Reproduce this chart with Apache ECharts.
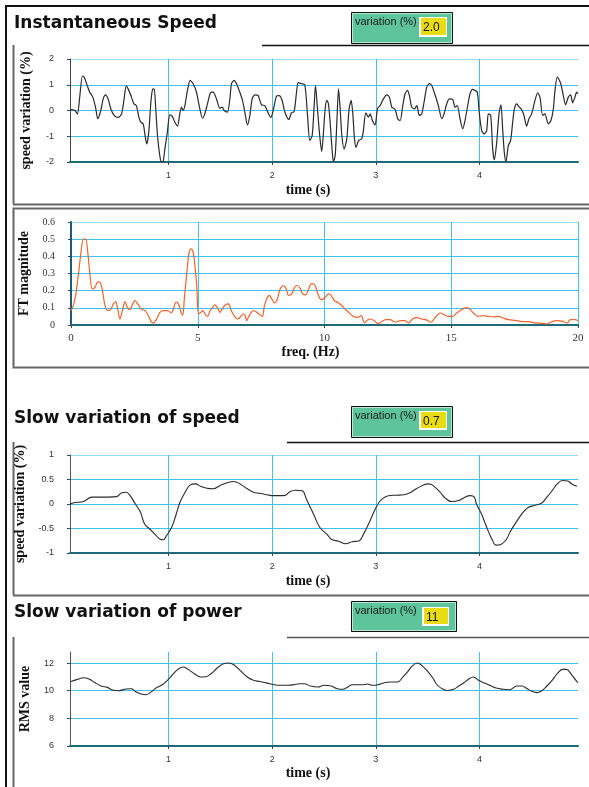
<!DOCTYPE html>
<html>
<head>
<meta charset="utf-8">
<title>Speed and power variation</title>
<script src="https://cdn.jsdelivr.net/npm/echarts@6/dist/echarts.min.js"></script>
<style>
  html, body { margin: 0; padding: 0; background: #ffffff; }
  #chart { width: 589px; height: 787px; }
</style>
</head>
<body>
<div id="chart"></div>
<script>
// ---- Instantaneous speed variation (%) vs time (s) ----
const speedTime = [0.05,0.096,0.122,0.145,0.17,0.186,0.21,0.24,0.27,0.296,0.318,0.347,0.37,0.392,0.418,0.444,0.476,0.514,0.547,0.572,0.592,0.611,0.643,0.666,0.69,0.714,0.733,0.756,0.772,0.79,0.81,0.83,0.846,0.862,0.875,0.894,0.916,0.932,0.949,0.965,0.987,1.013,1.035,1.061,1.087,1.109,1.125,1.141,1.158,1.183,1.209,1.238,1.27,1.296,1.328,1.35,1.376,1.405,1.431,1.463,1.495,1.518,1.537,1.569,1.592,1.608,1.633,1.656,1.688,1.714,1.736,1.762,1.785,1.807,1.833,1.865,1.897,1.929,1.961,1.987,2.01,2.042,2.068,2.096,2.122,2.161,2.186,2.212,2.235,2.251,2.283,2.315,2.341,2.363,2.386,2.405,2.418,2.437,2.46,2.478,2.495,2.511,2.527,2.543,2.559,2.575,2.591,2.608,2.624,2.64,2.656,2.672,2.694,2.72,2.742,2.762,2.778,2.794,2.81,2.833,2.864,2.88,2.903,2.929,2.945,2.967,2.993,3.016,3.041,3.073,3.105,3.131,3.154,3.186,3.211,3.234,3.26,3.282,3.305,3.324,3.346,3.372,3.395,3.42,3.443,3.465,3.491,3.516,3.539,3.571,3.603,3.636,3.658,3.684,3.709,3.741,3.764,3.786,3.812,3.838,3.86,3.886,3.909,3.934,3.957,3.979,3.999,4.021,4.044,4.069,4.085,4.108,4.127,4.143,4.166,4.188,4.207,4.223,4.239,4.255,4.278,4.3,4.32,4.336,4.358,4.384,4.406,4.429,4.454,4.477,4.503,4.535,4.561,4.583,4.609,4.631,4.663,4.689,4.712,4.728,4.75,4.776,4.792,4.808,4.831,4.856,4.879,4.898,4.921,4.937,4.95];
const speedValues = [0.04,0,-0.13,0.58,1.34,1.3,1.04,0.71,0.52,0.13,-0.32,0,0.45,0.61,0.45,0.06,-0.19,-0.27,-0.13,0.45,0.95,0.84,0.52,0.26,0.19,-0.26,-0.45,-0.52,-0.91,-1.3,-0.84,0.32,0.82,0.84,0.19,-0.97,-1.75,-2.0,-1.98,-1.49,-0.91,-0.17,-0.22,-0.45,-0.61,-0.13,0.13,0,0.19,0.78,1.17,1.04,0.71,0.19,-0.3,-0.13,0.26,0.69,0.71,0.45,0.09,0.13,0,-0.06,0.45,1.04,1.17,1.04,0.71,0.39,-0.06,-0.56,-0.19,0.45,0.61,0.58,0.22,0.19,-0.09,-0.27,0,0.56,0.58,0.39,-0.06,-0.35,-0.09,-0.04,0.71,1.08,1.04,1.0,-0.19,-1.17,-0.97,0.19,0.97,0.06,-1.04,-1.6,-0.84,0.06,0.39,0.26,-0.45,-1.36,-1.99,-1.75,-0.45,0.84,0.06,-0.97,-1.49,-1.1,0.06,0.39,-0.13,-1.1,-1.43,-1.17,-1.1,-0.78,-0.09,-0.26,-0.13,-0.39,-0.56,0.06,0.19,0.45,0.61,0.52,0.13,0.04,-0.32,-0.39,0.19,0.65,0.78,0.58,0.13,0.06,0.19,-0.19,-0.13,0.32,0.91,1.04,0.97,0.61,0.19,-0.32,-0.13,0.26,0.45,0.43,0.13,0.19,-0.32,-0.71,-0.39,0.19,0.65,0.82,0.78,0.71,-0.13,-0.78,-0.91,-0.78,-0.13,-0.19,-1.49,-1.91,-1.23,-0.13,0.22,-0.71,-1.62,-1.99,-1.36,-1.17,-0.45,0.06,0.26,0.13,0.04,-0.19,-0.61,-0.32,-0.13,0.39,0.69,0.52,-0.19,-0.13,-0.52,-0.39,0.06,0.78,1.3,1.13,0.91,0.58,0.22,0.52,0.61,0.3,0.52,0.71,0.65];

// ---- Fourier transform magnitude vs frequency (Hz) ----
const freqHz = [0,0.09,0.18,0.29,0.38,0.49,0.58,0.66,0.75,0.84,0.95,1.05,1.14,1.24,1.34,1.45,1.58,1.67,1.76,1.84,1.93,2.03,2.13,2.22,2.33,2.43,2.53,2.63,2.76,2.92,3.05,3.16,3.25,3.38,3.51,3.64,3.82,3.95,4.04,4.14,4.24,4.34,4.41,4.47,4.57,4.66,4.74,4.83,4.9,4.96,5.03,5.12,5.2,5.29,5.39,5.49,5.59,5.68,5.79,5.88,5.97,6.08,6.21,6.32,6.45,6.58,6.67,6.8,6.87,6.93,7.0,7.11,7.2,7.33,7.46,7.55,7.63,7.72,7.82,7.92,8.03,8.12,8.25,8.38,8.49,8.58,8.71,8.82,8.93,9.04,9.14,9.26,9.37,9.47,9.57,9.66,9.74,9.83,9.92,10.03,10.16,10.26,10.39,10.55,10.75,10.95,11.14,11.32,11.45,11.58,11.71,11.84,12.0,12.13,12.26,12.42,12.59,12.79,12.99,13.16,13.32,13.47,13.64,13.82,14.0,14.21,14.37,14.57,14.74,14.89,15.05,15.22,15.42,15.58,15.71,15.88,16.05,16.28,16.47,16.67,16.87,17.07,17.26,17.53,17.79,18.05,18.32,18.58,18.78,18.97,19.17,19.37,19.57,19.7,19.89,20.0];
const ftMagnitude = [0.084,0.113,0.17,0.29,0.405,0.5,0.5,0.425,0.29,0.21,0.22,0.25,0.25,0.2,0.113,0.084,0.094,0.123,0.136,0.094,0.035,0.084,0.136,0.103,0.09,0.123,0.142,0.123,0.094,0.084,0.055,0.02,0.012,0.035,0.074,0.084,0.084,0.07,0.094,0.133,0.123,0.074,0.058,0.152,0.308,0.425,0.444,0.415,0.327,0.23,0.064,0.074,0.084,0.064,0.05,0.084,0.103,0.117,0.097,0.074,0.094,0.117,0.123,0.084,0.05,0.035,0.045,0.064,0.055,0.025,0.045,0.074,0.084,0.074,0.058,0.05,0.113,0.152,0.172,0.152,0.129,0.142,0.21,0.23,0.21,0.172,0.181,0.22,0.23,0.214,0.181,0.175,0.207,0.24,0.24,0.22,0.181,0.152,0.148,0.162,0.181,0.172,0.142,0.129,0.103,0.074,0.05,0.045,0.055,0.012,0.031,0.035,0.02,0.006,0.02,0.031,0.031,0.016,0.025,0.025,0.012,0.035,0.045,0.035,0.031,0.016,0.045,0.07,0.058,0.05,0.05,0.07,0.09,0.101,0.094,0.07,0.05,0.055,0.05,0.047,0.05,0.039,0.031,0.027,0.02,0.02,0.012,0.01,0.006,0.02,0.025,0.023,0.012,0.031,0.031,0.025];

// ---- Slow variation of speed (%) vs time (s) ----
const slowSpeedTime = [0.052,0.1,0.18,0.26,0.34,0.42,0.5,0.55,0.59,0.63,0.68,0.73,0.77,0.82,0.87,0.92,0.95,0.98,1.03,1.07,1.11,1.16,1.21,1.26,1.31,1.37,1.43,1.5,1.56,1.63,1.69,1.76,1.82,1.88,1.95,2.01,2.08,2.13,2.17,2.22,2.29,2.33,2.4,2.46,2.53,2.57,2.64,2.71,2.77,2.84,2.88,2.93,2.98,3.02,3.06,3.12,3.2,3.27,3.33,3.39,3.46,3.51,3.55,3.62,3.67,3.73,3.8,3.86,3.91,3.95,3.97,4.02,4.07,4.12,4.16,4.21,4.26,4.3,4.35,4.42,4.47,4.53,4.6,4.65,4.7,4.75,4.8,4.85,4.89,4.94];
const slowSpeedValues = [0,0.03,0.05,0.14,0.14,0.14,0.15,0.23,0.24,0.17,0,-0.17,-0.41,-0.51,-0.62,-0.72,-0.73,-0.65,-0.48,-0.24,0.03,0.24,0.39,0.41,0.36,0.32,0.31,0.38,0.43,0.46,0.41,0.31,0.24,0.22,0.19,0.17,0.17,0.18,0.25,0.28,0.27,0.1,-0.21,-0.48,-0.62,-0.72,-0.76,-0.81,-0.77,-0.75,-0.62,-0.41,-0.17,0,0.1,0.17,0.18,0.19,0.23,0.31,0.39,0.41,0.38,0.24,0.12,0.05,0.07,0.14,0.17,0.14,0,-0.21,-0.48,-0.72,-0.84,-0.82,-0.72,-0.55,-0.38,-0.17,-0.07,-0.03,0.02,0.14,0.27,0.41,0.48,0.47,0.41,0.36];

// ---- Slow variation of power: RMS value vs time (s) ----
const powerTime = [0.058,0.12,0.18,0.24,0.28,0.35,0.41,0.46,0.52,0.59,0.64,0.68,0.73,0.78,0.83,0.88,0.94,0.99,1.04,1.09,1.14,1.18,1.25,1.31,1.36,1.41,1.47,1.53,1.58,1.63,1.69,1.76,1.82,1.88,1.95,2.02,2.08,2.15,2.21,2.26,2.31,2.37,2.44,2.5,2.57,2.63,2.68,2.73,2.77,2.82,2.87,2.92,2.97,3.02,3.08,3.14,3.21,3.26,3.31,3.35,3.4,3.45,3.5,3.55,3.59,3.64,3.69,3.75,3.8,3.85,3.9,3.94,3.99,4.04,4.1,4.16,4.23,4.29,4.36,4.41,4.46,4.5,4.55,4.6,4.65,4.7,4.75,4.8,4.84,4.88,4.93,4.95];
const powerRms = [10.67,10.82,10.94,10.82,10.63,10.34,10.24,10.05,10.0,10.12,10.14,9.95,9.78,9.71,9.9,10.19,10.43,10.75,11.16,11.54,11.71,11.59,11.23,10.99,11.01,11.23,11.64,11.95,12.0,11.88,11.47,10.99,10.75,10.67,10.55,10.43,10.39,10.39,10.43,10.5,10.5,10.34,10.27,10.39,10.34,10.14,10.1,10.27,10.43,10.43,10.43,10.48,10.39,10.43,10.58,10.63,10.63,10.99,11.4,11.78,12.0,11.78,11.4,10.92,10.43,10.14,10.02,10.1,10.34,10.58,10.87,10.99,10.75,10.58,10.39,10.19,10.1,10.07,10.34,10.34,10.14,9.98,9.86,10.0,10.34,10.75,11.23,11.54,11.54,11.23,10.75,10.58];

// ---- Readouts and tick labels ----
const panelTitles = ['Instantaneous Speed', 'Slow variation of speed', 'Slow variation of power'];
const variationReadouts = ['2.0', '0.7', '11'];
const timeTicks = [1, 2, 3, 4];

const pairs = (xs, ys) => xs.map((x, i) => [x, ys[i]]);

const GRID_BLUE = '#3dc2ee';
const GRID_LIGHT = '#93d9f3';
const SERIF = '"Liberation Serif", "DejaVu Serif", serif';
const SANS = '"Liberation Sans", Arial, sans-serif';
const TITLE_FONT = 'bold 17px "DejaVu Sans", "Liberation Sans", sans-serif';

function timeAxis(gridIndex, nameGap) {
  return {
    type: 'value', gridIndex, min: 0.05, max: 4.95,
    axisLine: { show: true, onZero: false, lineStyle: { color: '#1e6a7a', width: 2 } },
    axisTick: { show: true, length: 3, lineStyle: { color: '#444' } },
    axisLabel: {
      showMinLabel: false, showMaxLabel: false, margin: 9,
      fontSize: 9, fontFamily: SANS, color: '#333',
      formatter: v => (timeTicks.indexOf(v) >= 0 ? String(v) : '')
    },
    splitLine: { show: true, showMinLine: false, showMaxLine: false, lineStyle: { color: GRID_BLUE, width: 1 } },
    name: 'time (s)', nameLocation: 'middle', nameGap,
    nameTextStyle: { fontFamily: SERIF, fontWeight: 'bold', fontSize: 14, color: '#111', padding: [0, 32, 0, 0] }
  };
}

function valueAxis(gridIndex, opts) {
  return Object.assign({
    type: 'value', gridIndex,
    axisLine: { show: true, lineStyle: { color: '#444', width: 1 } },
    axisTick: { show: true, length: 3, lineStyle: { color: '#444' } },
    axisLabel: { margin: 16, fontSize: 9, fontFamily: SANS, color: '#333' },
    nameLocation: 'middle', nameGap: 37,
    nameTextStyle: { fontFamily: SERIF, fontWeight: 'bold', fontSize: 14, color: '#111' }
  }, opts);
}

// ---- Panel decoration: frames, titles and variation readouts ----
function hLine(x1, x2, y, stroke, w) {
  return { type: 'line', silent: true, shape: { x1, y1: y, x2, y2: y }, style: { stroke, lineWidth: w } };
}
function vLine(x, y1, y2, stroke, w) {
  return { type: 'line', silent: true, shape: { x1: x, y1, x2: x, y2 }, style: { stroke, lineWidth: w } };
}
function title(text, y) {
  return {
    type: 'text', x: 14, y, silent: true,
    style: { text, fill: '#111', font: TITLE_FONT, textVerticalAlign: 'top', verticalAlign: 'top' }
  };
}
function readout(x, y, w, h, yx, yy, yw, yh, value) {
  return [
    { type: 'rect', silent: true, shape: { x: x + 0.5, y: y + 0.5, width: w, height: h }, style: { fill: '#5ec49b', stroke: '#111', lineWidth: 1 } },
    { type: 'rect', silent: true, shape: { x: x + 1.5, y: y + 1.5, width: w - 2, height: h - 2 }, style: { fill: 'none', stroke: '#b8e8d3', lineWidth: 1 } },
    { type: 'text', x: x + 4, y: y + 10, silent: true,
      style: { text: 'variation (%)', fill: '#1a1a1a', font: '11px ' + SANS, textVerticalAlign: 'middle', verticalAlign: 'middle' } },
    { type: 'rect', silent: true, shape: { x: yx, y: yy, width: yw, height: yh }, style: { fill: '#ffffff' } },
    { type: 'rect', silent: true, shape: { x: yx + 2, y: yy + 1, width: yw - 3, height: yh - 3 }, style: { fill: '#e9dc12' } },
    { type: 'text', x: yx + 4, y: yy + yh / 2 + 1, silent: true,
      style: { text: value, fill: '#111', font: '12px ' + SANS, textVerticalAlign: 'middle', verticalAlign: 'middle' } }
  ];
}

const graphics = [
  hLine(5, 589, 6, '#111', 2),
  vLine(6, 5, 787, '#111', 2),
  hLine(262, 589, 45.5, '#111', 1.5),
  vLine(13.5, 45, 204, '#666', 2),
  hLine(13, 589, 204.5, '#666', 2),
  { type: 'rect', silent: true, shape: { x: 13.5, y: 208.5, width: 580, height: 159 }, style: { fill: 'none', stroke: '#666', lineWidth: 2 } },
  hLine(287, 589, 442.5, '#111', 1.5),
  vLine(13.5, 442, 595, '#666', 2),
  hLine(13, 589, 595.5, '#666', 2),
  hLine(287, 589, 637.5, '#555', 1.5),
  vLine(13.5, 637, 787, '#666', 2),
  title(panelTitles[0], 15.5),
  title(panelTitles[1], 410.5),
  title(panelTitles[2], 604.5)
].concat(
  readout(351, 12, 101, 31, 419, 17, 28, 20, variationReadouts[0]),
  readout(351, 406, 101, 31, 419, 411, 28, 19, variationReadouts[1]),
  readout(351, 601, 105, 30, 422, 607, 27, 19, variationReadouts[2])
);

const chart = echarts.init(document.getElementById('chart'), null, { renderer: 'canvas' });

chart.setOption({
  backgroundColor: '#ffffff',
  animation: false,
  grid: [
    { left: 70, top: 59, width: 508, height: 103 },
    { left: 71, top: 222, width: 507, height: 103 },
    { left: 70, top: 455, width: 508, height: 98 },
    { left: 70, top: 652, width: 508, height: 94 }
  ],
  xAxis: [
    timeAxis(0, 21),
    {
      type: 'value', gridIndex: 1, min: 0, max: 20, interval: 5,
      axisLine: { show: true, onZero: false, lineStyle: { color: '#1e6a7a', width: 2 } },
      axisTick: { show: true, length: 3, lineStyle: { color: '#444' } },
      axisLabel: { margin: 8, fontSize: 11, fontFamily: SERIF, color: '#333' },
      splitLine: { show: true, showMinLine: false, showMaxLine: true, lineStyle: { color: GRID_BLUE, width: 1 } },
      name: 'freq. (Hz)', nameLocation: 'middle', nameGap: 20,
      nameTextStyle: { fontFamily: SERIF, fontWeight: 'bold', fontSize: 14, color: '#111', padding: [0, 28, 0, 0] }
    },
    timeAxis(2, 21),
    timeAxis(3, 20)
  ],
  yAxis: [
    valueAxis(0, {
      min: -2, max: 2, interval: 1, name: 'speed variation (%)',
      splitLine: { show: true, lineStyle: { color: [GRID_BLUE, GRID_BLUE, GRID_BLUE, GRID_BLUE, GRID_LIGHT], width: 1 } }
    }),
    valueAxis(1, {
      min: 0, max: 0.6, interval: 0.1, name: 'FT magnitude',
      axisLine: { show: true, lineStyle: { color: '#1f5a78', width: 2 } },
      axisLabel: { margin: 16, fontSize: 10, fontFamily: SERIF, color: '#333' },
      splitLine: { show: true, lineStyle: { color: [GRID_BLUE, GRID_BLUE, GRID_BLUE, GRID_BLUE, GRID_BLUE, GRID_BLUE, GRID_LIGHT], width: 1 } }
    }),
    valueAxis(2, {
      min: -1, max: 1, interval: 0.5, name: 'speed variation (%)',
      axisLine: { show: true, lineStyle: { color: '#555', width: 1 } },
      splitLine: { show: true, lineStyle: { color: [GRID_BLUE, GRID_BLUE, GRID_BLUE, GRID_BLUE, GRID_LIGHT], width: 1 } }
    }),
    valueAxis(3, {
      min: 6, max: 12.8, interval: 2, name: 'RMS value', nameGap: 38,
      axisLine: { show: true, lineStyle: { color: '#555', width: 1 } },
      axisLabel: { margin: 16, fontSize: 9, fontFamily: SANS, color: '#333', showMaxLabel: false },
      splitLine: { show: true, showMinLine: false, showMaxLine: false, lineStyle: { color: GRID_BLUE, width: 1 } }
    })
  ],
  series: [
    {
      type: 'line', xAxisIndex: 0, yAxisIndex: 0, data: pairs(speedTime, speedValues),
      showSymbol: false, smooth: 0.25, lineStyle: { color: '#2a2a2a', width: 1.2 }
    },
    {
      type: 'line', xAxisIndex: 1, yAxisIndex: 1, data: pairs(freqHz, ftMagnitude),
      showSymbol: false, smooth: 0.3, lineStyle: { color: '#f2632e', width: 1.2 }
    },
    {
      type: 'line', xAxisIndex: 2, yAxisIndex: 2, data: pairs(slowSpeedTime, slowSpeedValues),
      showSymbol: false, smooth: 0.4, lineStyle: { color: '#2a2a2a', width: 1.1 }
    },
    {
      type: 'line', xAxisIndex: 3, yAxisIndex: 3, data: pairs(powerTime, powerRms),
      showSymbol: false, smooth: 0.4, lineStyle: { color: '#2a2a2a', width: 1.1 }
    }
  ],
  graphic: { elements: graphics }
});
</script>
</body>
</html>
